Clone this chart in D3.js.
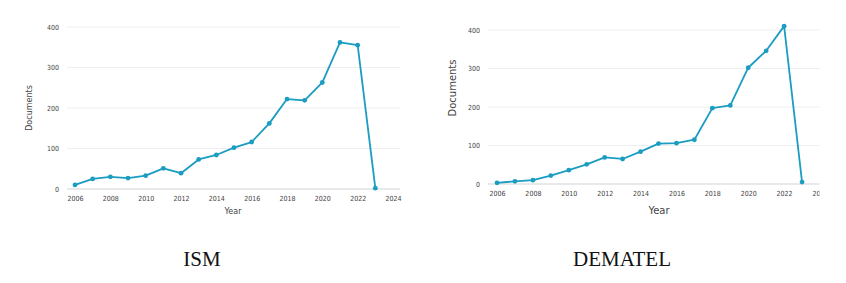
<!DOCTYPE html>
<html>
<head>
<meta charset="utf-8">
<script src="https://cdn.jsdelivr.net/npm/d3@7"></script>
<style>
  body { margin: 0; background: #fff; }
  svg { display: block; }
</style>
</head>
<body>
<script>
var width = 846, height = 283;

//Years shared by both panels
var years = [2006, 2007, 2008, 2009, 2010, 2011, 2012, 2013, 2014, 2015, 2016, 2017, 2018, 2019, 2020, 2021, 2022, 2023];
var ismDocs = [10, 25, 30, 27, 33, 51, 39, 73, 84, 102, 116, 162, 222, 219, 263, 362, 355, 2];
var dematelDocs = [3, 7, 10, 22, 36, 51, 69, 65, 84, 105, 106, 115, 197, 204, 302, 346, 410, 5];
var yTicks = [0, 100, 200, 300, 400];
var xTicks = [2006, 2008, 2010, 2012, 2014, 2016, 2018, 2020, 2022, 2024];
var titles = ["ISM", "DEMATEL"];

var lineColor = "#1b9cc1";

var svg = d3.select("body").append("svg").attr("width", width).attr("height", height);

//Panel layout (pixel boxes)
var panels = [
  {data: ismDocs, title: titles[0], x0: 75, x1: 393, gx0: 67, gx1: 400, y0: 189, y1: 27,
   ylab: [29, 108], xlab: [233, 211], tx: 202, labSize: 8},
  {data: dematelDocs, title: titles[1], x0: 497, x1: 820, gx0: 488, gx1: 820, y0: 184, y1: 30,
   ylab: [452, 88], xlab: [659, 210], tx: 622, labSize: 10}
];

//Right panel is cut off at its right edge in the source image
svg.append("clipPath").attr("id", "rightclip")
  .append("rect").attr("x", 420).attr("y", 0).attr("width", 399.5).attr("height", height);

panels.forEach(function(p, i) {
  var x = d3.scaleLinear().domain([2006, 2024]).range([p.x0, p.x1]);
  var y = d3.scaleLinear().domain([0, 400]).range([p.y0, p.y1]);

  var g = svg.append("g");
  if (i === 1) g.attr("clip-path", "url(#rightclip)");

  //Grid lines
  g.selectAll(".grid").data(yTicks).enter().append("line")
    .attr("x1", p.gx0).attr("x2", p.gx1)
    .attr("y1", function(d) { return y(d); }).attr("y2", function(d) { return y(d); })
    .attr("stroke", function(d) { return d === 0 ? "#cfd3d6" : "#eceef0"; })
    .attr("stroke-width", 1);

  //Y axis (no domain line, just labels)
  var yAxis = g.append("g").attr("transform", "translate(" + (p.gx0 - 5) + ",0)")
    .call(d3.axisLeft(y).tickValues(yTicks).tickSize(0).tickPadding(3));
  yAxis.select(".domain").remove();
  yAxis.selectAll("text").attr("fill", "#444").style("font-family", "DejaVu Sans Condensed, sans-serif").style("font-size", "7px");

  //X axis
  var xAxis = g.append("g").attr("transform", "translate(0," + (p.y0 + 4) + ")")
    .call(d3.axisBottom(x).tickValues(xTicks).tickFormat(d3.format("d")).tickSize(0).tickPadding(3));
  xAxis.select(".domain").remove();
  xAxis.selectAll("text").attr("fill", "#444").style("font-family", "DejaVu Sans Condensed, sans-serif").style("font-size", "7px");

  //Series line + markers
  var line = d3.line()
    .x(function(d, j) { return x(years[j]); })
    .y(function(d) { return y(d); });

  g.append("path").datum(p.data)
    .attr("d", line)
    .attr("fill", "none")
    .attr("stroke", lineColor)
    .attr("stroke-width", 1.8)
    .attr("stroke-linejoin", "round");

  g.selectAll(".dot").data(p.data).enter().append("circle")
    .attr("cx", function(d, j) { return x(years[j]); })
    .attr("cy", function(d) { return y(d); })
    .attr("r", 2.4)
    .attr("fill", lineColor);

  //Axis titles
  svg.append("text")
    .attr("transform", "translate(" + p.ylab[0] + "," + p.ylab[1] + ") rotate(-90)")
    .attr("text-anchor", "middle").attr("dy", "0.35em")
    .attr("fill", "#444")
    .style("font-family", "DejaVu Sans, sans-serif").style("font-size", p.labSize + "px")
    .text("Documents");

  svg.append("text")
    .attr("x", p.xlab[0]).attr("y", p.xlab[1])
    .attr("text-anchor", "middle").attr("dy", "0.35em")
    .attr("fill", "#444")
    .style("font-family", "DejaVu Sans, sans-serif").style("font-size", p.labSize + "px")
    .text("Year");

  //Panel caption
  svg.append("text")
    .attr("x", p.tx).attr("y", 266)
    .attr("text-anchor", "middle")
    .attr("fill", "#111")
    .style("font-family", "Liberation Serif, serif").style("font-size", "21px")
    .text(p.title);
});
</script>
</body>
</html>
